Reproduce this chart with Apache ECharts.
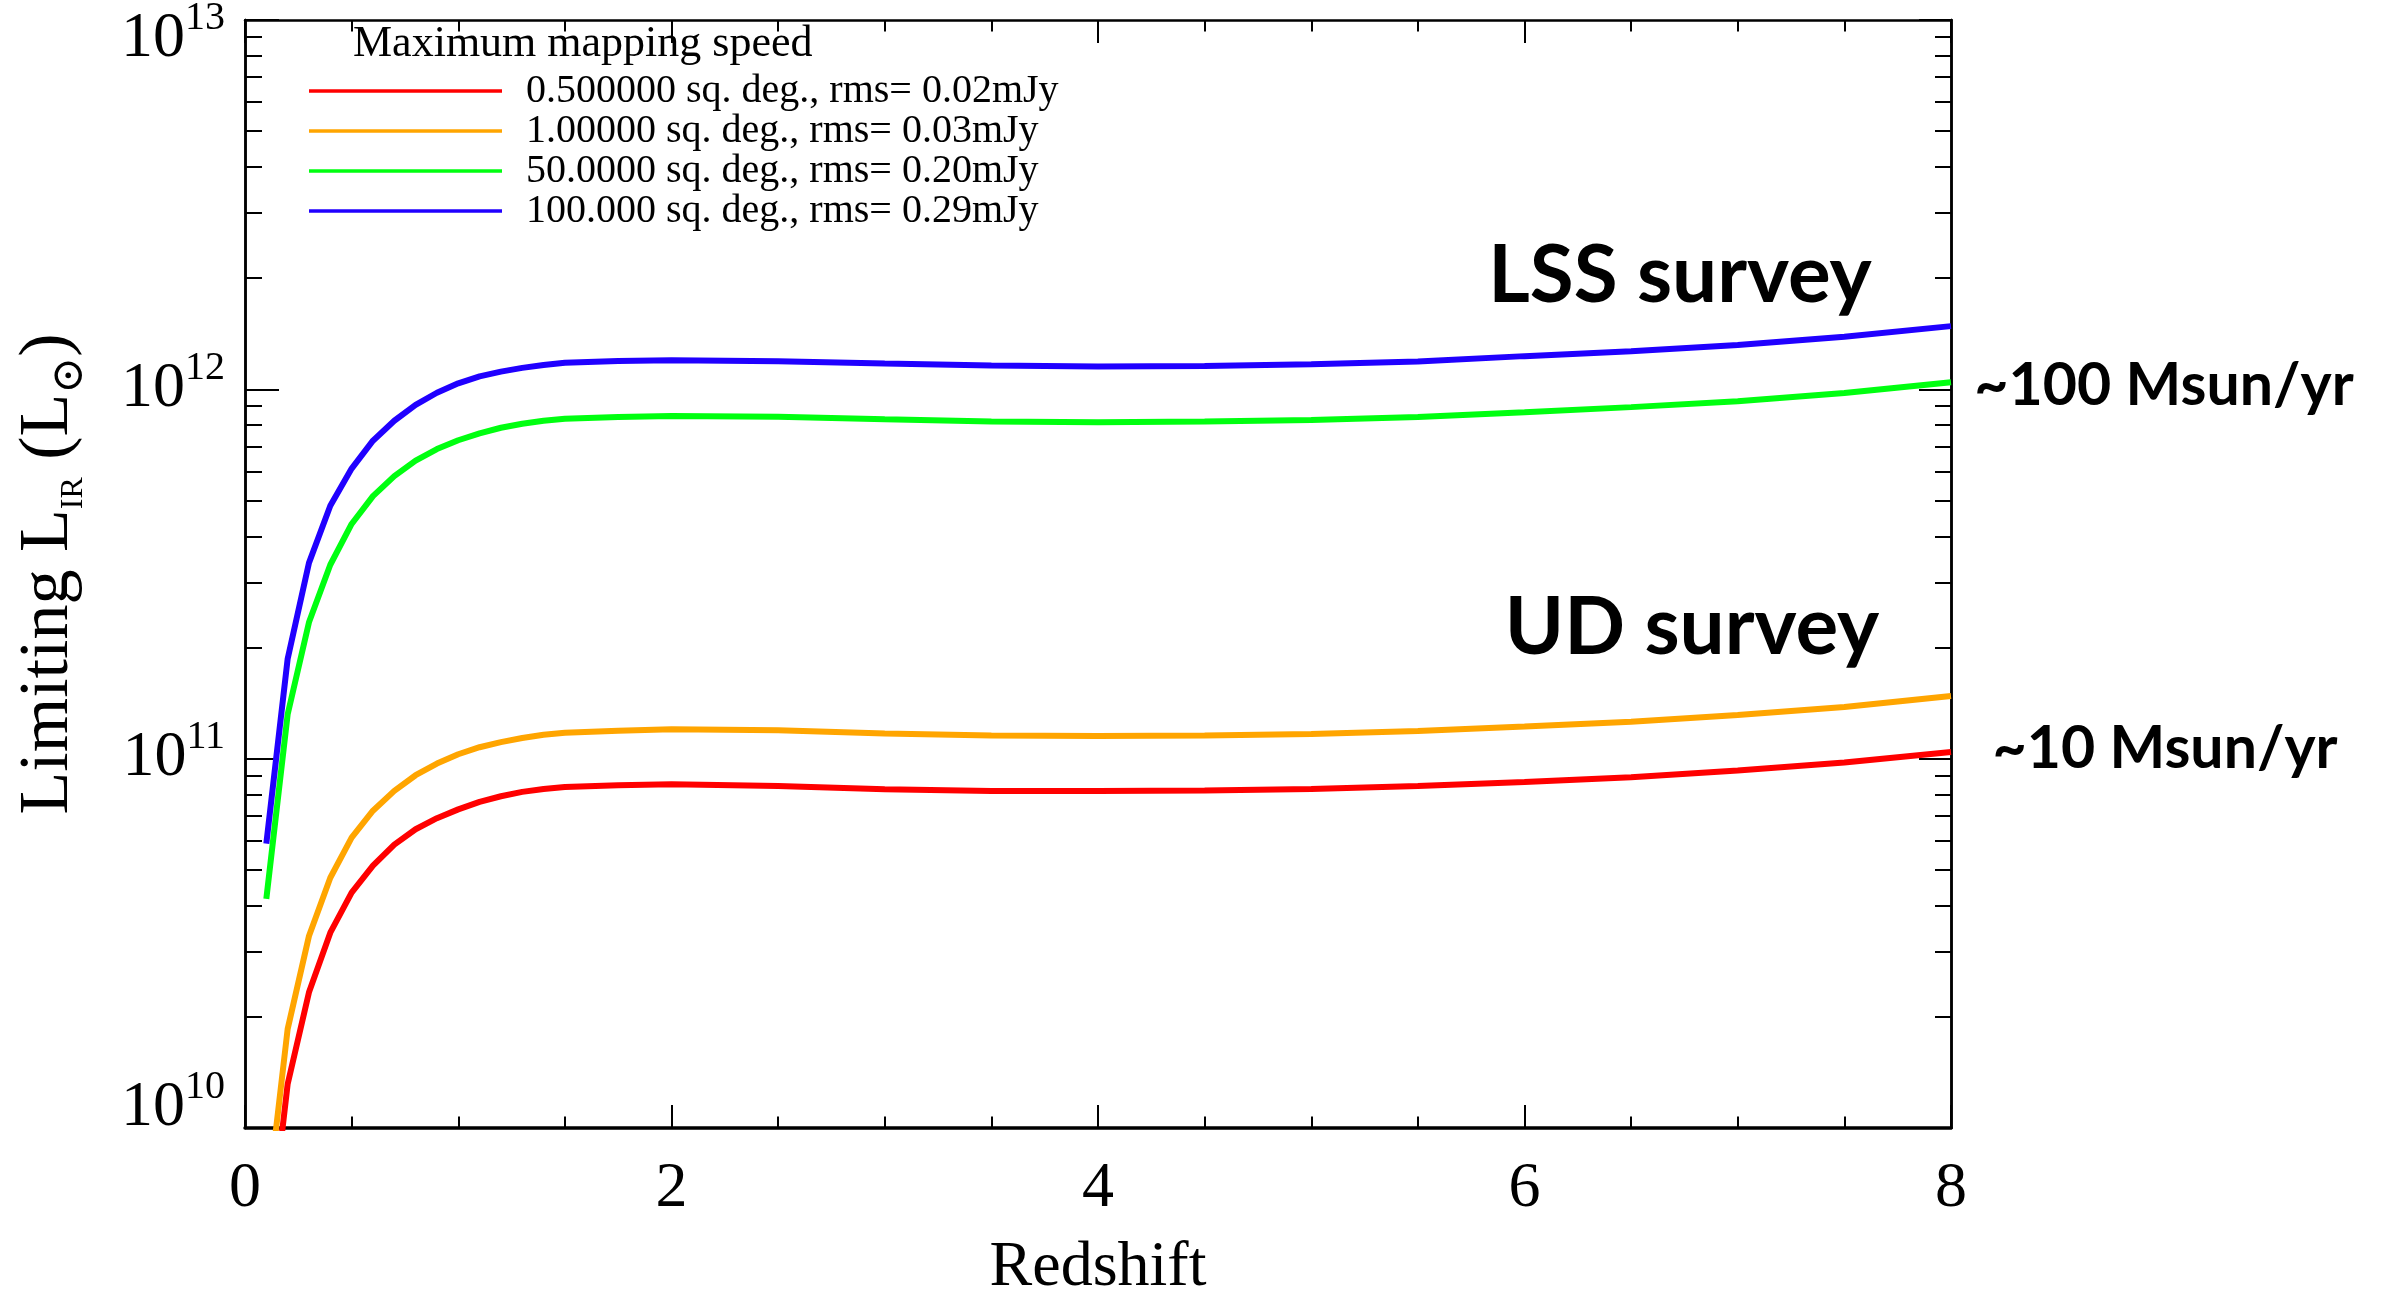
<!DOCTYPE html>
<html>
<head>
<meta charset="utf-8">
<script src="https://cdn.jsdelivr.net/npm/echarts@6/dist/echarts.min.js"></script>
<style>
  html, body { margin: 0; padding: 0; background: #fff; }
  #chart { width: 2384px; height: 1290px; }
</style>
</head>
<body>
<div id="chart"></div>
<script>
// Redshift sampling of the limiting-luminosity curves
const redshift = [0.1, 0.2, 0.3, 0.4, 0.5, 0.6, 0.7, 0.8, 0.9, 1.0, 1.1, 1.2, 1.3, 1.4, 1.5,
                  1.75, 2.0, 2.5, 3.0, 3.5, 4.0, 4.5, 5.0, 5.5, 6.0, 6.5, 7.0, 7.5, 8.0];

// Limiting L_IR (L_sun) for each survey area / depth
const lir_0p5deg = [4.17e9, 1.315e10, 2.33e10, 3.38e10, 4.34e10, 5.13e10, 5.85e10, 6.44e10, 6.90e10, 7.29e10,
                    7.64e10, 7.91e10, 8.13e10, 8.28e10, 8.38e10, 8.47e10, 8.53e10, 8.43e10, 8.26e10, 8.18e10,
                    8.17e10, 8.20e10, 8.28e10, 8.43e10, 8.65e10, 8.91e10, 9.29e10, 9.77e10, 1.042e11];
const lir_1deg = [5.89e9, 1.854e10, 3.31e10, 4.76e10, 6.11e10, 7.23e10, 8.18e10, 9.02e10, 9.70e10, 1.028e11,
                  1.074e11, 1.109e11, 1.138e11, 1.161e11, 1.175e11, 1.191e11, 1.202e11, 1.194e11, 1.169e11, 1.156e11,
                  1.151e11, 1.156e11, 1.167e11, 1.189e11, 1.222e11, 1.259e11, 1.312e11, 1.380e11, 1.479e11];
const lir_50deg = [4.17e10, 1.318e11, 2.34e11, 3.35e11, 4.32e11, 5.14e11, 5.82e11, 6.41e11, 6.89e11, 7.28e11,
                   7.60e11, 7.87e11, 8.07e11, 8.22e11, 8.32e11, 8.41e11, 8.47e11, 8.43e11, 8.30e11, 8.18e11,
                   8.15e11, 8.18e11, 8.26e11, 8.41e11, 8.67e11, 8.95e11, 9.29e11, 9.77e11, 1.045e12];
const lir_100deg = [5.89e10, 1.862e11, 3.39e11, 4.84e11, 6.10e11, 7.26e11, 8.22e11, 9.08e11, 9.79e11, 1.038e12,
                    1.084e12, 1.117e12, 1.143e12, 1.164e12, 1.180e12, 1.194e12, 1.199e12, 1.191e12, 1.175e12, 1.161e12,
                    1.153e12, 1.156e12, 1.169e12, 1.189e12, 1.230e12, 1.268e12, 1.318e12, 1.387e12, 1.483e12];

const seriesNames = [
  '0.500000 sq. deg., rms= 0.02mJy',
  '1.00000 sq. deg., rms= 0.03mJy',
  '50.0000 sq. deg., rms= 0.20mJy',
  '100.000 sq. deg., rms= 0.29mJy'
];
const seriesValues = [lir_0p5deg, lir_1deg, lir_50deg, lir_100deg];
const seriesColors = ['#ff0000', '#ffa500', '#00ff10', '#2000ff'];

// Tick positions of the logarithmic luminosity axis
const yMajorTicks = [1e10, 1e11, 1e12, 1e13];
const yMinorTicks = [2e10, 3e10, 4e10, 5e10, 6e10, 7e10, 8e10, 9e10,
                     2e11, 3e11, 4e11, 5e11, 6e11, 7e11, 8e11, 9e11,
                     2e12, 3e12, 4e12, 5e12, 6e12, 7e12, 8e12, 9e12];

const SERIF = 'Liberation Serif';
const SANS_BOLD = 'Lato';

// "10" with the exponent raised as a superscript
function yLabel(v) {
  const e = Math.round(Math.log10(v));
  const key = e === 13 ? 'top' : (e === 10 ? 'bot' : 'mid');
  return '{' + key + '|10}{' + key + 'S|' + e + '}';
}

function num(pad) { return { fontFamily: SERIF, fontSize: 64, lineHeight: 64, color: '#000', padding: pad }; }
function sup(pad) { return { fontFamily: SERIF, fontSize: 40, lineHeight: 40, color: '#000', padding: pad }; }

function yAxisDef(pos, ticks, tickLen, labels) {
  return {
    type: 'log',
    logBase: 10,
    min: 1e10,
    max: 1e13,
    position: pos,
    axisLine: { show: true, onZero: false, lineStyle: { color: '#000', width: 2.5 } },
    axisTick: { show: true, inside: true, length: tickLen, customValues: ticks, lineStyle: { color: '#000', width: 2 } },
    minorTick: { show: false },
    splitLine: { show: false },
    minorSplitLine: { show: false },
    axisLabel: labels ? {
      show: true,
      customValues: yMajorTicks,
      margin: 20,
      formatter: yLabel,
      rich: {
        mid: num([0, 0, 0, 0]),
        midS: sup([0, 0, 42, 0]),
        top: num([38, 0, 0, 0]),
        topS: sup([38, 0, 42, 0]),
        bot: num([0, 0, 40, 0]),
        botS: sup([0, 0, 82, 0])
      }
    } : { show: false }
  };
}

function xAxisDef(pos, labels) {
  const ax = {
    type: 'value',
    position: pos,
    min: 0,
    max: 8,
    interval: 2,
    axisLine: { show: true, onZero: false, lineStyle: { color: '#000', width: pos === 'bottom' ? 3.5 : 2.5 } },
    axisTick: { show: true, inside: true, length: 23, lineStyle: { color: '#000', width: 2 } },
    minorTick: { show: true, splitNumber: 4, length: 11.5, lineStyle: { color: '#000', width: 2 } },
    splitLine: { show: false },
    minorSplitLine: { show: false },
    axisLabel: labels ? { show: true, margin: 29, fontFamily: SERIF, fontSize: 64, color: '#000' } : { show: false }
  };
  if (labels) {
    ax.name = 'Redshift';
    ax.nameLocation = 'middle';
    ax.nameGap = 108;
    ax.nameTextStyle = { fontFamily: SERIF, fontSize: 64, lineHeight: 64, color: '#000' };
  }
  return ax;
}

const yLeftMajor = yAxisDef('left', yMajorTicks, 34, true);
yLeftMajor.name = '{m|Limiting L}{s|IR}{m| (L}{o|\u2299}{m|)}';
yLeftMajor.nameLocation = 'middle';
yLeftMajor.nameGap = 161;
yLeftMajor.nameTextStyle = {
  color: '#000',
  rich: {
    m: { fontFamily: SERIF, fontSize: 70, lineHeight: 70, color: '#000' },
    s: { fontFamily: SERIF, fontSize: 32, lineHeight: 32, color: '#000', padding: [50, 0, 0, 0] },
    o: { fontFamily: 'DejaVu Serif', fontSize: 44, lineHeight: 44, color: '#000', padding: [44, 0, 0, 0] }
  }
};

const option = {
  animation: false,
  backgroundColor: '#fff',
  title: {
    text: 'Maximum mapping speed',
    left: 353,
    top: 22,
    padding: 0,
    textStyle: { fontFamily: SERIF, fontSize: 44, fontWeight: 'normal', color: '#000' }
  },
  legend: {
    orient: 'vertical',
    left: 309,
    top: 71,
    padding: 0,
    icon: 'rect',
    itemWidth: 193,
    itemHeight: 3.3,
    itemGap: 0,
    selectedMode: false,
    data: seriesNames,
    textStyle: { fontFamily: SERIF, fontSize: 40, lineHeight: 40, color: '#000', padding: [0, 0, 0, 19] }
  },
  grid: { left: 245, right: 433, top: 20, bottom: 162, outerBoundsMode: 'none' },
  xAxis: [xAxisDef('bottom', true), xAxisDef('top', false)],
  yAxis: [
    yLeftMajor,
    yAxisDef('left', yMinorTicks, 17, false),
    yAxisDef('right', yMajorTicks, 32, false),
    yAxisDef('right', yMinorTicks, 16, false)
  ],
  series: seriesNames.map((name, i) => ({
    name: name,
    type: 'line',
    xAxisIndex: 0,
    yAxisIndex: 0,
    showSymbol: false,
    clip: true,
    lineStyle: { color: seriesColors[i], width: 6 },
    itemStyle: { color: seriesColors[i] },
    data: redshift.map((z, k) => [z, seriesValues[i][k]])
  })),
  graphic: [
    { type: 'text', x: 1680, y: 276, style: { text: 'LSS survey', fontFamily: SANS_BOLD, fontWeight: 'bold', fontSize: 80, fill: '#000', align: 'center', verticalAlign: 'middle' } },
    { type: 'text', x: 1692, y: 628, style: { text: 'UD survey', fontFamily: SANS_BOLD, fontWeight: 'bold', fontSize: 80, fill: '#000', align: 'center', verticalAlign: 'middle' } },
    { type: 'text', x: 2164, y: 386, style: { text: '~100 Msun/yr', fontFamily: SANS_BOLD, fontWeight: 'bold', fontSize: 59, fill: '#000', align: 'center', verticalAlign: 'middle' } },
    { type: 'text', x: 2165, y: 749, style: { text: '~10 Msun/yr', fontFamily: SANS_BOLD, fontWeight: 'bold', fontSize: 59, fill: '#000', align: 'center', verticalAlign: 'middle' } }
  ]
};

const chart = echarts.init(document.getElementById('chart'), null, { renderer: 'canvas' });
chart.setOption(option);
</script>
</body>
</html>
